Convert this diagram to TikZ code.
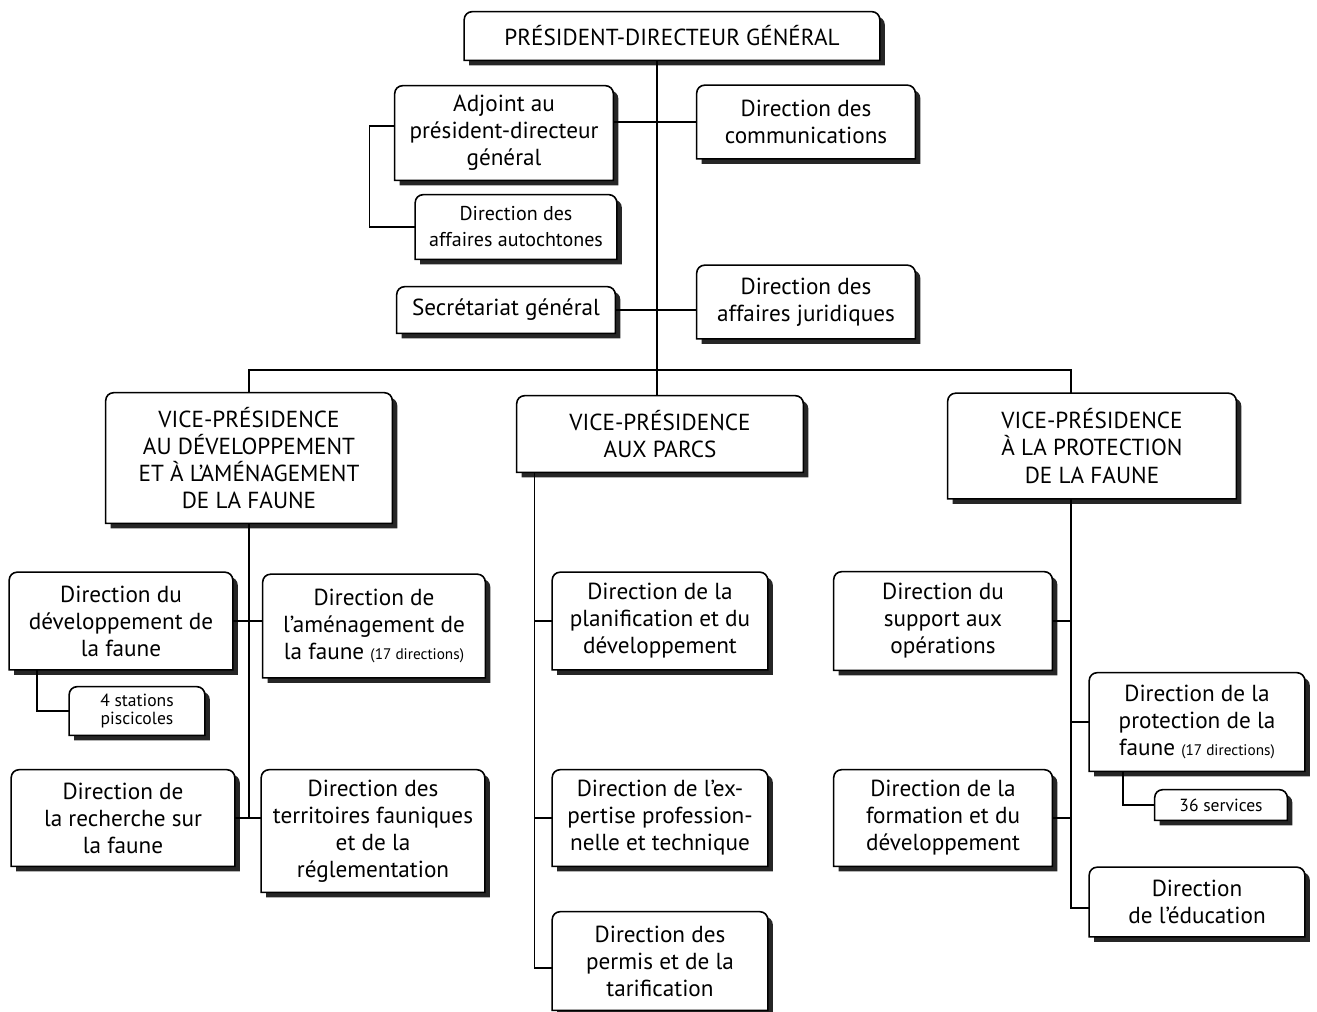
\documentclass[tikz,border=0pt]{standalone}
\usepackage{fontspec}
\setmainfont{PT Sans}
\usetikzlibrary{positioning, backgrounds, calc}
\newcommand{\bigtxt}{\fontsize{13.2}{15.4}\selectfont}
\newcommand{\midtxt}{\fontsize{11.4}{14.8}\selectfont}
\newcommand{\smalltxt}{\fontsize{10}{10.6}\selectfont}
\newcommand{\notetxt}{\fontsize{8.7}{10}\selectfont}
\newcommand{\toppath}[1]{(#1.south west) -- ([yshift=-0.16cm]#1.north west) arc[start angle=180, end angle=90, radius=0.16cm] -- ([xshift=-0.16cm]#1.north east) arc[start angle=90, end angle=0, radius=0.16cm] -- (#1.south east) -- cycle}
\tikzstyle{unit} = [align=center, inner sep=0pt, font=\bigtxt]
\tikzstyle{subunit} = [unit, font=\midtxt]
\tikzstyle{tiny} = [unit, font=\smalltxt]
\tikzstyle{link} = [line width=0.8pt]
\tikzset{size/.style 2 args={minimum width=#1cm, minimum height=#2cm}}

\begin{document}
\begin{tikzpicture}[x=0.02cm, y=-0.02cm]
        \useasboundingbox (0,0) rectangle (1317,1011);

        \node (pdg) [unit, size={8.3}{0.96}] at (672,36) {PRÉSIDENT-DIRECTEUR GÉNÉRAL};
        \node (adj) [unit, size={4.36}{1.88}] at (504,133) {Adjoint au\\président-directeur\\général};
        \node (comm) [unit, size={4.36}{1.46}] at (806,122) {Direction des\\communications};
        \node (auto) [subunit, size={4.02}{1.28}] at (516,227) {Direction des\\affaires autochtones};
        \node (sec) [unit, size={4.36}{0.92}] at (506,310) {Secrétariat général};
        \node (jur) [unit, size={4.36}{1.46}] at (806,302) {Direction des\\affaires juridiques};

        \node (vp1) [unit, size={5.72}{2.6}] at (249,458) {VICE-PRÉSIDENCE\\AU DÉVELOPPEMENT\\ET À L’AMÉNAGEMENT\\DE LA FAUNE};
        \node (vp2) [unit, size={5.72}{1.52}] at (660,434) {VICE-PRÉSIDENCE\\AUX PARCS};
        \node (vp3) [unit, size={5.76}{2.1}] at (1092,446) {VICE-PRÉSIDENCE\\À LA PROTECTION\\DE LA FAUNE};

        \node (dev) [unit, size={4.46}{1.94}] at (121,621) {Direction du\\développement de\\la faune};
        \node (amen) [unit, size={4.44}{2.06}] at (374,626) {Direction de\\l’aménagement de\\la faune {\notetxt(17 directions)}};
        \node (stat) [tiny, size={2.7}{0.96}] at (137,711) {4 stations\\piscicoles};
        \node (rech) [unit, size={4.46}{1.92}] at (123,818) {Direction de\\la recherche sur\\la faune};
        \node (terr) [unit, size={4.46}{2.44}] at (373,831) {Direction des\\territoires fauniques\\et de la\\réglementation};

        \node (plan) [unit, size={4.3}{1.94}] at (660,621) {Direction de la\\planification et du\\développement};
        \node (expe) [unit, size={4.3}{1.92}] at (660,818) {Direction de l’ex-\\pertise profession-\\nelle et technique};
        \node (perm) [unit, size={4.3}{1.96}] at (660,961) {Direction des\\permis et de la\\tarification};

        \node (supp) [unit, size={4.36}{1.96}] at (943,621) {Direction du\\support aux\\opérations};
        \node (form) [unit, size={4.36}{1.92}] at (943,818) {Direction de la\\formation et du\\développement};
        \node (prot) [unit, size={4.3}{1.96}] at (1197,722) {Direction de la\\protection de la\\faune {\notetxt(17 directions)}};
        \node (serv) [tiny, size={2.64}{0.6}] at (1221,805) {36 services};
        \node (educ) [unit, size={4.3}{1.38}] at (1197,902) {Direction\\de l’éducation};

        \begin{scope}[on background layer]
        \foreach \n in {pdg,adj,comm,auto,sec,jur,vp1,vp2,vp3,dev,amen,stat,rech,terr,plan,expe,perm,supp,form,prot,serv,educ}{
            \fill[black!85, transform canvas={xshift=0.1cm, yshift=-0.1cm}] \toppath{\n};
            \draw[line width=0.9pt, fill=white] \toppath{\n};
        }
        \end{scope}

        \coordinate (trunk) at (657,370);
        \coordinate (p2) at ([xshift=0.36cm]vp2.south west);
        \coordinate (p3) at ([xshift=-0.42cm]vp3.south);

        \draw [link] (pdg.south -| trunk) -- (vp2.north -| trunk);
        \draw [link] (comm.west) -- (comm.west -| adj.east);
        \draw [link] ([yshift=0.14cm]adj.west) -- ++(-25,0) |- (auto.west);
        \draw [link] (sec.east) -- (sec.east -| jur.west);
        \draw [link] (vp1.north) |- (trunk) -| (vp3.north -| p3);

        \draw [link] (vp1.south) -- (vp1.south |- rech.east);
        \draw [link] (dev.east) -- (dev.east -| amen.west);
        \draw [link] (rech.east) -- (rech.east -| terr.west);
        \draw [link] ([xshift=0.56cm]dev.south west) |- (stat.west);

        \draw [link] (p2) |- ([yshift=-0.14cm]perm.west);
        \draw [link] (plan.west) -- (plan.west -| p2);
        \draw [link] (expe.west) -- (expe.west -| p2);

        \draw [link] (p3) |- ([yshift=-0.12cm]educ.west);
        \draw [link] (supp.east) -- (supp.east -| p3);
        \draw [link] (form.east) -- (form.east -| p3);
        \draw [link] (prot.west) -- (prot.west -| p3);
        \draw [link] ([xshift=0.68cm]prot.south west) |- (serv.west);

\end{tikzpicture}
\end{document}
